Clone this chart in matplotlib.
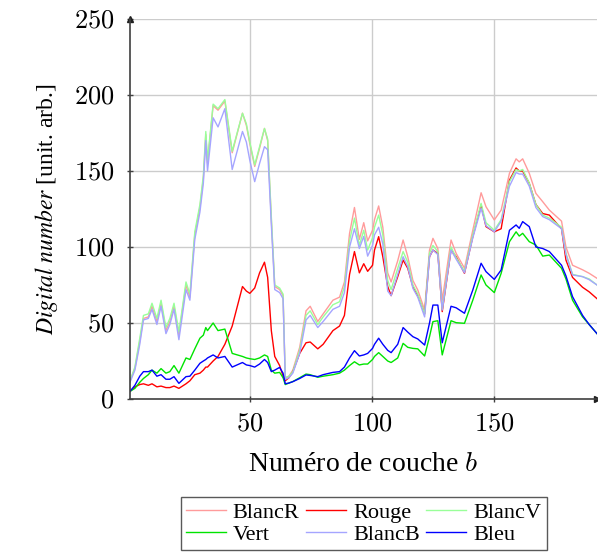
import matplotlib
matplotlib.use("Agg")
import matplotlib.pyplot as plt
from matplotlib.ticker import FuncFormatter

# band number (x)
bands = [1, 3, 5, 6.5, 8.5, 10, 12, 13.7, 15.7, 17.3, 19, 21, 23.9, 25.5, 27.5,
         29.6, 31, 32, 32.7, 35, 37, 39.8, 42.8, 47, 48.6, 50, 52, 54, 56, 57.3,
         58.8, 60.2, 62.2, 63.6, 64.5, 66, 67.6, 70.4, 73, 74.7, 77.8, 80, 84,
         86.7, 88.7, 90.8, 92.8, 94.8, 96.6, 98.2, 100.2, 101, 102.7, 104.4,
         106.4, 107.8, 110.5, 112.7, 114.6, 116.7, 118.7, 121.5, 123.5, 124.9,
         126.9, 128.7, 132.3, 134.4, 137.8, 141.2, 144.6, 146.6, 150, 152.8,
         156.2, 158.9, 160.2, 161.6, 164.3, 167, 169.8, 172.5, 177.5, 179.3,
         182, 186.1, 188.8, 192]

blanc_r = [12, 20, 38, 53, 54, 61, 51, 63, 45, 51, 61, 42, 75, 67, 108,
           126, 145, 174, 155, 193, 190, 196, 162, 188, 180, 168, 153, 165, 178, 170,
           118, 74, 72, 68, 14, 15, 19, 34, 58, 61, 51, 56, 65,
           67, 77, 109, 126, 105, 116, 104, 111, 118, 127, 113,
           83, 77, 91, 104.6, 93.6, 78, 71.7, 58.5, 98, 105.7,
           99, 65, 104.6, 95.8, 86, 111, 135.7, 126.5, 117.8, 124.3,
           148.5, 158, 156, 158, 148.5, 135.3, 129.8, 124.3, 117, 100,
           88, 85, 82.7, 79.4]

rouge = [5, 8, 9.5, 10, 9, 10, 8, 8.5, 7.5, 7.5, 8.5, 7, 10, 12, 16,
         17, 19, 21, 21, 25, 28, 36, 48, 74, 71, 69.5, 73, 83, 90, 80,
         45, 28, 22, 15, 12, 14, 18, 30, 37, 37.5, 33, 36, 45,
         48, 55, 82, 97, 83, 89, 84, 88, 98, 106.8, 93.6,
         74, 68, 80.5, 91.4, 86, 74, 68, 56, 93.6, 98,
         95.8, 57.5, 98, 93.6, 82.7, 106.8, 127.6, 113.4, 110, 112,
         144, 152, 150, 150, 141.9, 128, 122, 121, 112, 91.4,
         80, 73.5, 70.5, 66]

blanc_v = [12, 21, 40, 55, 56, 63, 53, 65, 47, 53, 63, 44, 77, 69, 110,
           128, 147, 176, 157, 194, 191, 197, 163, 188, 181, 169, 154, 166, 178, 171,
           120, 75, 73, 69, 14, 15, 18, 32, 55, 58, 49, 54, 62,
           64, 74, 104, 119, 101, 111, 98, 106, 113, 121, 108,
           78, 72, 86, 97, 90, 75, 69, 56, 96, 101,
           97, 59, 100, 93, 84, 108, 128.7, 116, 111, 118,
           143, 151, 150, 151, 142, 128, 121, 119, 113, 96,
           82, 80.5, 79, 75]

vert = [5, 7, 11, 13.5, 16, 19, 17, 20, 17, 18, 22, 17, 27, 26, 33,
        40, 42, 47, 45, 50, 45, 46, 30, 28, 27, 26.5, 26, 27, 29, 28,
        19, 17, 17.5, 14, 9.5, 10.5, 11.5, 14, 16.4, 16, 14.3, 15, 16,
        17, 19, 22, 24.5, 22.4, 23, 23, 26, 28, 30.5, 28,
        25, 24, 27, 36.6, 34, 33.3, 33, 28.3, 41, 50.9,
        51.5, 29, 51.5, 50.2, 49.8, 65, 81.6, 75, 70, 82.7,
        103.5, 110, 107.2, 109, 103.5, 101.3, 94, 94.7, 86, 79,
        65, 54, 49, 43]

blanc_b = [11, 19, 36, 52, 53, 59, 49, 61, 43, 49, 59, 39, 72, 65, 105,
           123, 142, 170, 150, 185, 179, 191, 151, 176, 169, 157, 143, 155, 166, 164,
           115, 72, 70, 66, 13, 14, 17, 30, 52, 55, 47, 51, 59,
           61, 70, 100, 112, 99, 107, 94, 101, 108, 113, 102,
           71, 68, 82, 93.6, 87, 72.8, 67, 54, 93.6, 98,
           95, 58.5, 98, 92, 83, 106, 125.4, 114, 110, 117,
           140, 149, 148, 148, 140, 126, 120, 118, 112, 95,
           81.6, 80.5, 78.5, 75]

bleu = [5, 9, 15, 18, 18, 19, 15, 16, 13, 13, 14.7, 10.3, 14.7, 15, 19,
        23.5, 25, 26, 27, 29, 27, 28, 21, 24, 22.4, 22, 21, 23, 26, 24,
        18, 19, 20.8, 17, 10, 10.5, 11.4, 13.5, 15.8, 15.5, 14.7, 16, 17.5,
        18, 21, 27, 31.8, 28.3, 29, 30, 33.3, 36, 40, 36,
        32, 30.5, 36, 47, 44, 41, 39.5, 35.5, 50, 61.8,
        61.8, 37, 61, 60, 56.4, 71.7, 89.3, 83.8, 78.7, 84.9,
        111, 114.5, 112.3, 116.7, 113.4, 100, 99, 97, 88, 81,
        67.3, 55, 49, 43]

series = [
    ("BlancR", blanc_r, "#ff9b9b"),
    ("Rouge", rouge, "#ff0000"),
    ("BlancV", blanc_v, "#99ff99"),
    ("Vert", vert, "#00e400"),
    ("BlancB", blanc_b, "#a5a5ff"),
    ("Bleu", bleu, "#0000ff"),
]

xticks = [50, 100, 150]
yticks = [0, 50, 100, 150, 200, 250]

plt.rcParams["font.family"] = ["Liberation Serif", "DejaVu Serif"]
plt.rcParams["mathtext.fontset"] = "stix"

fig = plt.figure(figsize=(5.98, 5.60), dpi=100)
ax = fig.add_axes([130 / 598, 1 - 399 / 560, (597 - 130) / 598, (399 - 19) / 560])

handles = {}
for name, vals, col in series:
    (h,) = ax.plot(bands, vals, color=col, lw=1.0, label=name)
    handles[name] = h

ax.set_xlim(1, 192)
ax.set_ylim(0, 250)
ax.set_xticks(xticks)
ax.set_yticks(yticks)
fmt = FuncFormatter(lambda v, p: r"$%d$" % v)
ax.xaxis.set_major_formatter(fmt)
ax.yaxis.set_major_formatter(fmt)
ax.grid(True, color="#cccccc", lw=1.0)
ax.set_axisbelow(True)
for s in ["top", "right"]:
    ax.spines[s].set_visible(False)
for s in ["left", "bottom"]:
    ax.spines[s].set_color("#404040")
    ax.spines[s].set_linewidth(1.2)
ax.tick_params(direction="inout", length=5, width=1, color="#404040",
               labelsize=19)
ax.tick_params(axis="y", pad=9)
ax.tick_params(axis="x", pad=8)
for lab in ax.get_xticklabels() + ax.get_yticklabels():
    lab.set_math_fontfamily("cm")
ax.plot(1, 0, ">", color="#202020", ms=5, transform=ax.transAxes, clip_on=False)
ax.plot(0, 1, "^", color="#202020", ms=5, transform=ax.transAxes, clip_on=False)

xl = ax.set_xlabel("Numéro de couche $b$", fontsize=20, labelpad=12)
xl.set_math_fontfamily("cm")
ax.set_ylabel(r"$\mathit{Digital\ number}$ [unit. arb.]", fontsize=17, labelpad=10)

order = ["BlancR", "Vert", "Rouge", "BlancB", "BlancV", "Bleu"]
leg = fig.legend([handles[n] for n in order], order, loc="upper center",
                 bbox_to_anchor=(0.608, 1 - 497 / 560), ncol=3,
                 fontsize=16, frameon=True, fancybox=False, edgecolor="#303030",
                 handlelength=1.8, handletextpad=0.3, columnspacing=0.3,
                 labelspacing=0.05, borderpad=0.25, borderaxespad=0)
leg.get_frame().set_linewidth(1.0)

fig.savefig("out.png", dpi=100)
